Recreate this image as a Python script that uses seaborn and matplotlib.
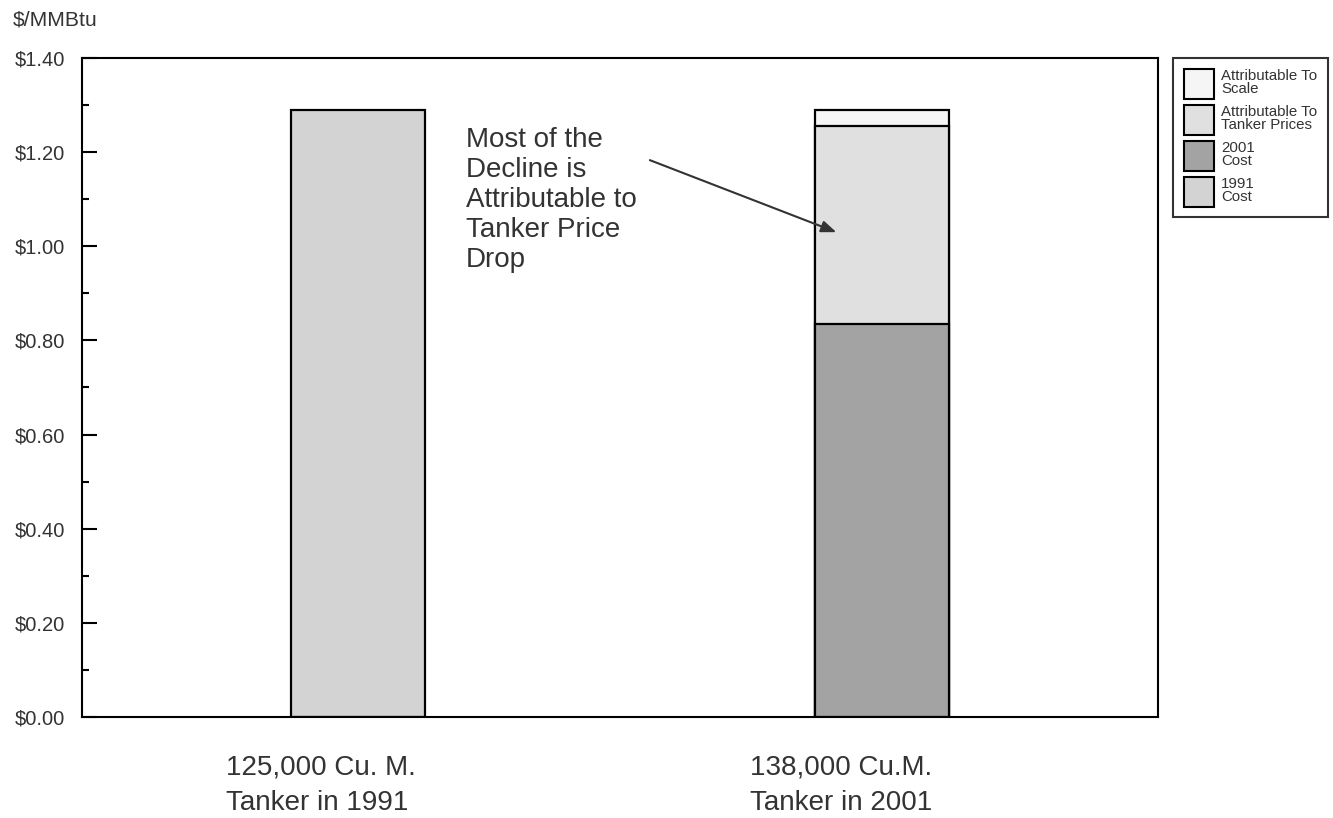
import matplotlib
matplotlib.use("Agg")
import matplotlib.pyplot as plt
import matplotlib.transforms as mtransforms
import seaborn as sns
import pandas as pd
from matplotlib.patches import Patch
from matplotlib.ticker import MultipleLocator, FuncFormatter

# ---- data ----
categories = ["125,000 Cu. M.\nTanker in 1991", "138,000 Cu.M.\nTanker in 2001"]
segments = ["1991\nCost", "2001\nCost", "Attributable To\nTanker Prices", "Attributable To\nScale"]
cost_1991 = [1.29, 0.0]
cost_2001 = [0.0, 0.835]
tanker_prices = [0.0, 0.42]
scale = [0.0, 0.035]
seg_colors = ["#d3d3d3", "#a3a3a3", "#e0e0e0", "#f5f5f5"]

sns.set_style("white")
plt.rcParams["font.family"] = ["Liberation Sans", "DejaVu Sans"]
txt = "#333333"

fig = plt.figure(figsize=(13.33, 8.18), dpi=100)
ax = fig.add_axes([82/1333, 1 - 717/818, (1158-82)/1333, (717-58)/818])

# cumulative tops, drawn from top segment down so lower segments overlay
seg_vals = [cost_1991, cost_2001, tanker_prices, scale]
rows = []
for i, cat in enumerate(categories):
    cum = 0.0
    for s, vals in zip(segments, seg_vals):
        v = vals[i]
        if v > 0:
            cum += v
            rows.append({"cat": cat, "seg": s, "top": cum})
df = pd.DataFrame(rows)

for s, c in reversed(list(zip(segments, seg_colors))):
    d = df[df["seg"] == s]
    if d.empty:
        continue
    sns.barplot(data=d, x="cat", y="top", order=categories, color=c,
                edgecolor="black", linewidth=1.6, width=0.256, ax=ax,
                saturation=1, errorbar=None)

ax.set_xlim(-0.527, 1.527)
ax.set_ylim(0, 1.40)
ax.set_xlabel("")
ax.set_ylabel("")

ax.yaxis.set_major_locator(MultipleLocator(0.2))
ax.yaxis.set_minor_locator(MultipleLocator(0.1))
ax.yaxis.set_major_formatter(FuncFormatter(lambda v, p: f"${v:.2f}"))
ax.tick_params(axis="y", which="major", direction="in", length=11, width=1.5,
               labelsize=14.5, labelcolor=txt, pad=12.5, left=True, color="black")
ax.tick_params(axis="y", which="minor", direction="in", length=5, width=1.5, left=True, color="black")
ax.tick_params(axis="x", which="major", direction="in", length=11, width=1.5,
               labelsize=20, labelcolor=txt, pad=27, bottom=True, color="black")
shift = mtransforms.ScaledTranslation(-132/100, 0, fig.dpi_scale_trans)
for lab in ax.get_xticklabels():
    lab.set_linespacing(1.49)
    lab.set_horizontalalignment("left")
    lab.set_multialignment("left")
    lab.set_transform(lab.get_transform() + shift)

for sp in ax.spines.values():
    sp.set_visible(True)
    sp.set_color("black")
    sp.set_linewidth(1.5)

# annotation
ax.text(0.206, 1.253, "Most of the\nDecline is\nAttributable to\nTanker Price\nDrop",
        fontsize=20, color=txt, ha="left", va="top", linespacing=1.2)
ax.annotate("", xy=(0.913, 1.03), xytext=(0.557, 1.183),
            arrowprops=dict(arrowstyle="-|>,head_length=0.9,head_width=0.35",
                            color="#333333", lw=1.5, shrinkA=0, shrinkB=0))

fig.text(13/1333, 1 - 20/818, "$/MMBtu", fontsize=15.2, color=txt, ha="left", va="center")

# legend (top segment first)
handles = [Patch(facecolor=c, edgecolor="black", linewidth=1.5) for c in seg_colors][::-1]
labels = segments[::-1]
leg = fig.legend(handles, labels, loc="upper left", bbox_to_anchor=(1173/1333, 1 - 58/818),
                 fontsize=10.8, frameon=True, fancybox=False, edgecolor="black",
                 handlelength=2.0, handleheight=2.7, labelspacing=0.4,
                 handletextpad=0.5, borderpad=0.7, borderaxespad=0)
leg.get_frame().set_linewidth(1.5)
for t in leg.get_texts():
    t.set_linespacing(0.85)
    t.set_color(txt)

fig.savefig("out.png", dpi=100)
